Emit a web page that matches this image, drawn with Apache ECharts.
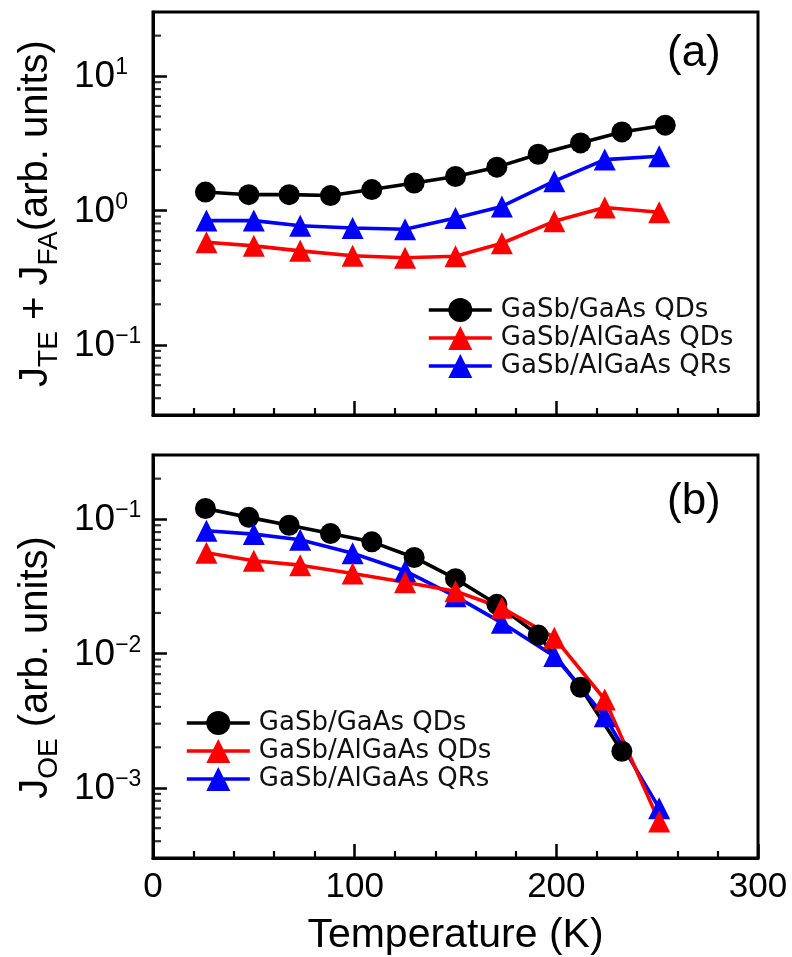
<!DOCTYPE html>
<html>
<head>
<meta charset="utf-8">
<script src="https://cdn.jsdelivr.net/npm/echarts@6/dist/echarts.min.js"></script>
<style>
  html, body { margin: 0; padding: 0; background: #fff; }
  #chart { width: 792px; height: 957px; }
</style>
</head>
<body>
<div id="chart"></div>
<script>
// Temperatures (K) of the GaSb/GaAs QD measurements and of the two AlGaAs samples
const tempDots = [26, 47.5, 67.5, 88, 108.5, 129.5, 150, 170.5, 191, 212, 232.5, 254];
const tempTris = [26.5, 50, 73, 99, 125, 150, 173, 199, 224, 251];

const seriesNames = ['GaSb/GaAs QDs', 'GaSb/AlGaAs QDs', 'GaSb/AlGaAs QRs'];

// (a) J_TE + J_FA (arb. units)
const jTeFaGaAsQD = [1.37, 1.31, 1.31, 1.29, 1.43, 1.60, 1.79, 2.10, 2.62, 3.18, 3.84, 4.31];
const jTeFaAlGaAsQD = [0.58, 0.545, 0.50, 0.46, 0.444, 0.456, 0.57, 0.83, 1.05, 0.97];
const jTeFaAlGaAsQR = [0.84, 0.84, 0.77, 0.74, 0.725, 0.88, 1.07, 1.65, 2.39, 2.53];

// (b) J_OE (arb. units)
const jOeGaAsQD = [0.120, 0.103, 0.090, 0.078, 0.0677, 0.0518, 0.0360, 0.0232, 0.0137, 0.0056, 0.00187];
const jOeAlGaAsQD = [0.0561, 0.0489, 0.0454, 0.0394, 0.0339, 0.0290, 0.0219, 0.0131, 0.00454, 0.00056];
const jOeAlGaAsQR = [0.0818, 0.0773, 0.0701, 0.0557, 0.0411, 0.0266, 0.0169, 0.00955, 0.0034, 0.000705];

// Log-axis minor tick values (2..9 within each decade)
const minorTicksA = [0.04, 0.05, 0.06, 0.07, 0.08, 0.09, 0.2, 0.3, 0.4, 0.5, 0.6, 0.7, 0.8, 0.9,
                     2, 3, 4, 5, 6, 7, 8, 9, 20];
const minorTicksB = [0.0004, 0.0005, 0.0006, 0.0007, 0.0008, 0.0009,
                     0.002, 0.003, 0.004, 0.005, 0.006, 0.007, 0.008, 0.009,
                     0.02, 0.03, 0.04, 0.05, 0.06, 0.07, 0.08, 0.09, 0.2];

const FONT = '"Liberation Sans", Arial, Helvetica, sans-serif';
const LEGEND_FONT = '"DejaVu Sans", sans-serif';
const COLORS = ['#000000', '#ff0000', '#0000ff'];
const FRAME = 3;
const LINE_W = 3.6;

function pairs(xs, ys) {
  return ys.map((y, i) => [xs[i], y]);
}

function powerLabel(value) {
  const lg = Math.log10(value);
  const e = Math.round(lg);
  if (Math.abs(lg - e) > 1e-6) return '';
  return '{b|10}{s|' + (e < 0 ? '\u2212' + (-e) : String(e)) + '}';
}

const tickLabelRich = {
  b: { fontSize: 37, fontFamily: FONT, color: '#000', verticalAlign: 'bottom' },
  s: { fontSize: 23, fontFamily: FONT, color: '#000', verticalAlign: 'bottom', padding: [0, 0, 16, 0] }
};

const nameRich = {
  j: { fontSize: 40, fontFamily: FONT, color: '#000', verticalAlign: 'bottom', padding: [0, 0, 7, 0] },
  s: { fontSize: 28, fontFamily: FONT, color: '#000', verticalAlign: 'bottom' }
};

function xAxis(gridIndex, withLabels) {
  return {
    type: 'value', gridIndex, min: 0, max: 300, interval: 100,
    axisLine: { show: true, onZero: false, lineStyle: { color: '#000', width: FRAME } },
    axisTick: { show: true, inside: true, length: 14, lineStyle: { color: '#000', width: 2.5 } },
    minorTick: { show: true, splitNumber: 5, length: 7, lineStyle: { color: '#000', width: 2.2 } },
    splitLine: { show: false },
    minorSplitLine: { show: false },
    axisLabel: { show: withLabels, fontSize: 35, fontFamily: FONT, color: '#000', margin: 12 },
    name: withLabels ? 'Temperature (K)' : '',
    nameLocation: 'middle',
    nameGap: 57,
    nameTextStyle: { fontSize: 41, fontFamily: FONT, color: '#000' }
  };
}

function yAxis(gridIndex, min, max, name, namePadding) {
  return {
    type: 'log', logBase: 10, gridIndex, min, max,
    axisLine: { show: true, onZero: false, lineStyle: { color: '#000', width: FRAME } },
    axisTick: { show: true, inside: true, length: 14, lineStyle: { color: '#000', width: 2.5 } },
    splitLine: { show: false },
    axisLabel: {
      show: true, align: 'left', margin: 79, showMinLabel: false, showMaxLabel: false,
      formatter: powerLabel, rich: tickLabelRich
    },
    name,
    nameLocation: 'middle',
    nameGap: 84,
    nameTextStyle: { rich: nameRich, padding: namePadding }
  };
}

function dataSeries(name, xi, xs, ys, color, symbol, size) {
  return {
    type: 'line', name, xAxisIndex: xi, yAxisIndex: xi,
    data: pairs(xs, ys),
    symbol, symbolSize: size,
    showAllSymbol: true,
    lineStyle: { color, width: LINE_W },
    itemStyle: { color },
    emphasis: { disabled: true }
  };
}

function minorTickSeries(xi, values) {
  return {
    type: 'scatter', xAxisIndex: xi, yAxisIndex: xi,
    data: values.map(v => [0, v]),
    symbol: 'rect', symbolSize: [8, 2.2], symbolOffset: [4, 0],
    itemStyle: { color: '#000' }, silent: true, clip: false, z: 5
  };
}

function legend(left, top) {
  return {
    data: seriesNames, orient: 'vertical', left, top, padding: 0,
    itemWidth: 63, itemHeight: 30, itemGap: 2,
    lineStyle: { width: LINE_W },
    textStyle: { fontSize: 26, fontFamily: LEGEND_FONT, color: '#111', padding: [0, 0, 0, 4] },
    selectedMode: false
  };
}

const chart = echarts.init(document.getElementById('chart'), null, { renderer: 'canvas' });

chart.setOption({
  animation: false,
  backgroundColor: '#fff',
  grid: [
    { left: 153, right: 34, top: 12, height: 403, show: true, borderColor: '#000', borderWidth: FRAME, backgroundColor: 'transparent' },
    { left: 153, right: 34, top: 455, height: 403, show: true, borderColor: '#000', borderWidth: FRAME, backgroundColor: 'transparent' }
  ],
  title: [
    { text: '(a)', left: 667, top: 32, padding: 0, textStyle: { fontSize: 44, fontWeight: 'normal', fontFamily: FONT, color: '#000' } },
    { text: '(b)', left: 667, top: 480, padding: 0, textStyle: { fontSize: 44, fontWeight: 'normal', fontFamily: FONT, color: '#000' } }
  ],
  legend: [legend(427, 297), legend(185, 710)],
  xAxis: [xAxis(0, false), xAxis(1, true)],
  yAxis: [
    yAxis(0, 0.03, 30, '{j|J}{s|TE}{j| + J}{s|FA}{j|(arb. units)}', [0, 0, 0, 0]),
    yAxis(1, 0.0003, 0.3, '{j|J}{s|OE}{j| (arb. units)}', [0, 22, 0, 0])
  ],
  series: [
    dataSeries(seriesNames[0], 0, tempDots, jTeFaGaAsQD, COLORS[0], 'circle', 21),
    dataSeries(seriesNames[2], 0, tempTris, jTeFaAlGaAsQR, COLORS[2], 'triangle', 22),
    dataSeries(seriesNames[1], 0, tempTris, jTeFaAlGaAsQD, COLORS[1], 'triangle', 22),
    dataSeries(seriesNames[0], 1, tempDots, jOeGaAsQD, COLORS[0], 'circle', 21),
    dataSeries(seriesNames[2], 1, tempTris, jOeAlGaAsQR, COLORS[2], 'triangle', 22),
    dataSeries(seriesNames[1], 1, tempTris, jOeAlGaAsQD, COLORS[1], 'triangle', 22),
    minorTickSeries(0, minorTicksA),
    minorTickSeries(1, minorTicksB)
  ]
});
</script>
</body>
</html>
